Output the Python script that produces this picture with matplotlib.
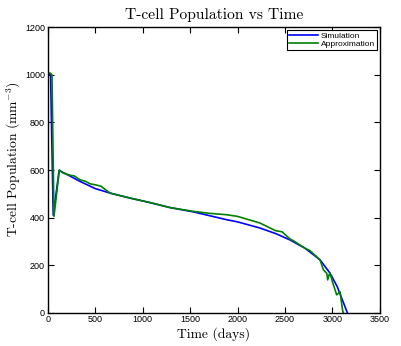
import matplotlib
matplotlib.use("Agg")
import matplotlib.pyplot as plt

plt.rcParams['mathtext.fontset'] = 'cm'

sim_t = [0, 30, 58, 120, 200, 340, 500, 656, 867, 1078, 1289, 1535, 1886, 2000,
         2237, 2400, 2553, 2711, 2870, 2975, 3050, 3157]
sim_v = [1000, 1000, 410, 598, 582, 552, 522, 503, 482, 463, 442, 424, 391, 382,
         356, 333, 306, 271, 222, 166, 110, 0]

app_t = [0, 25, 45, 66, 123, 160, 235, 280, 340, 400, 446, 498, 560, 656, 867,
         1078, 1289, 1535, 1700, 1886, 2000, 2237, 2400, 2470, 2553, 2600, 2711,
         2760, 2870, 2905, 2940, 2950, 2965, 2975, 3000, 3045, 3080, 3108, 3115]
app_v = [1005, 1008, 1000, 405, 600, 588, 578, 575, 559, 552, 542, 538, 532, 503,
         482, 463, 442, 426, 418, 412, 405, 377, 345, 340, 310, 300, 271, 262, 222,
         180, 166, 138, 160, 166, 130, 75, 88, 8, 0]

xticks = [0, 500, 1000, 1500, 2000, 2500, 3000, 3500]
yticks = [0, 200, 400, 600, 800, 1000, 1200]

fig = plt.figure(figsize=(4.02, 3.46), dpi=100)
ax = fig.add_axes([0.1187, 0.0962, 0.8263, 0.8249])
ax.plot(sim_t, sim_v, color='#0000ff', lw=1.2, label='Simulation')
ax.plot(app_t, app_v, color='#008000', lw=1.2, label='Approximation')
ax.set_xlim(0, 3500)
ax.set_ylim(0, 1200)
ax.set_xticks(xticks)
ax.set_yticks(yticks)
ax.tick_params(direction='in', top=True, right=True, length=4, width=0.8, labelsize=6.5, pad=2)
for lab in ax.get_xticklabels() + ax.get_yticklabels():
    lab.set_fontfamily('Liberation Sans')
for s in ax.spines.values():
    s.set_linewidth(1.0)
ax.set_title('T-cell Population vs Time', family='cmr10', fontsize=11.2, pad=6)
ax.set_xlabel('Time (days)', family='cmr10', fontsize=9.8, labelpad=2)
ax.set_ylabel(r'T-cell Population (mm$^{-3}$)', family='cmr10', fontsize=9.8)
ax.yaxis.set_label_coords(-0.075, 0.537)
leg = ax.legend(loc='upper right', prop={'family': 'Liberation Sans', 'size': 6},
                fancybox=False, edgecolor='black', framealpha=1, borderpad=0.25,
                handlelength=3.4, labelspacing=0.05, handletextpad=0.4,
                borderaxespad=0.3)
leg.get_frame().set_linewidth(0.8)
fig.savefig('out.png', dpi=100)
